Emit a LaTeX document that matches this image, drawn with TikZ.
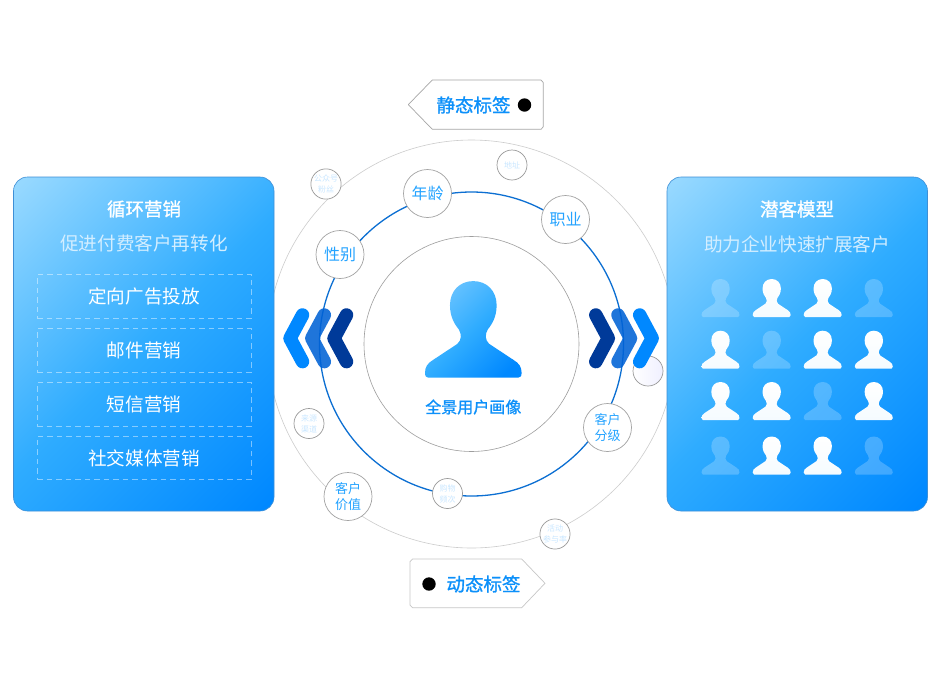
\documentclass[tikz,border=0pt]{standalone}
\usepackage{fontspec}
\setmainfont{Noto Sans CJK SC}
\newfontfamily\medfont[FakeBold=1.1]{Noto Sans CJK SC}
\usetikzlibrary{shadings}
\definecolor{panelLight}{HTML}{96D8FF}
\definecolor{panelMid}{HTML}{2FACFF}
\definecolor{panelDeep}{HTML}{0088FF}
\definecolor{panelEdge}{HTML}{3E8FD6}
\definecolor{tagBlue}{HTML}{0C90FA}
\definecolor{nodeBlue}{HTML}{24A3FF}
\definecolor{faintBlue}{HTML}{C9E7FF}
\definecolor{subWhite}{HTML}{D3EEFF}
\definecolor{ringBlue}{HTML}{0C6FD2}
\definecolor{chevA}{HTML}{0088FF}
\definecolor{chevB}{HTML}{0062D6}
\definecolor{chevC}{HTML}{003A99}
\pgfdeclareverticalshading{panelgrad}{100bp}{color(0bp)=(panelDeep); color(16bp)=(panelDeep); color(50bp)=(panelMid); color(84bp)=(panelLight); color(100bp)=(panelLight)}
\pgfdeclareverticalshading{headgrad}{100bp}{color(0bp)=(panelDeep); color(22bp)=(panelDeep); color(50bp)=(panelMid); color(84bp)=(panelLight!85!panelDeep); color(100bp)=(panelLight!85!panelDeep)}
\tikzset{
  x=1pt,y=-1pt,
  panelbox/.style={rounded corners=14pt,shading=panelgrad,shading angle=45,draw=panelEdge,line width=.6pt},
  dashbox/.style={draw=white,draw opacity=.45,dash pattern=on 5.5pt off 4pt,line width=.9pt,minimum width=214pt,minimum height=43.5pt,inner sep=0pt,text=white,font=\fontsize{18.6}{22}\selectfont,anchor=center},
  titletext/.style={text=white,font=\fontsize{18.5}{22}\selectfont\medfont,inner sep=0pt},
  subtext/.style={text=subWhite,font=\fontsize{18.6}{22}\selectfont,inner sep=0pt},
  bignode/.style={circle,draw=black!36,line width=.7pt,fill=white,minimum size=48pt,inner sep=0pt,align=center,text=nodeBlue,font=\fontsize{16}{18}\selectfont},
  twonode/.style={bignode,font=\fontsize{13}{16}\selectfont},
  smallnode/.style={circle,draw=black!40,line width=.7pt,fill=white,minimum size=30pt,inner sep=0pt,align=center,text=faintBlue,font=\fontsize{8}{11}\selectfont},
  tagtext/.style={text=tagBlue,font=\fontsize{18.5}{22}\selectfont\medfont,inner sep=0pt},
  chevstroke/.style={line width=13.5pt,line cap=round,line join=round},
}
\newcommand{\personshape}[3]{% cx, bottom y, half width
  \path[shift={(#1,#2)},x=#3pt,y=#3pt,persona] (0,2)
    .. controls (.28,2) and (.483,1.8) .. (.483,1.5)
    .. controls (.483,1.25) and (.38,1.1) .. (.30,1.0)
    .. controls (.24,.9) and (.24,.78) .. (.33,.70)
    -- (.83,.37) .. controls (.95,.3) and (1,.22) .. (1,.1)
    .. controls (1,.03) and (.97,0) .. (.93,0)
    -- (-.93,0) .. controls (-.97,0) and (-1,.03) .. (-1,.1)
    .. controls (-1,.22) and (-.95,.3) .. (-.83,.37)
    -- (-.33,.70) .. controls (-.24,.78) and (-.24,.9) .. (-.30,1.0)
    .. controls (-.38,1.1) and (-.483,1.25) .. (-.483,1.5)
    .. controls (-.483,1.8) and (-.28,2) .. (0,2) -- cycle;
}
\newcommand{\personb}[3]{\begingroup\tikzset{persona/.style={#3}}\personshape{#1}{#2}{19}\endgroup}
\begin{document}
\begin{tikzpicture}
\useasboundingbox (0,0) rectangle (940,678);
\fill[white] (0,0) rectangle (940,678);

% rings
\coordinate (hub) at (471.5,344);
\draw[black!20,line width=.6pt] (hub) circle[radius=204];
\draw[ringBlue,line width=1.3pt] (hub) circle[radius=152];
\draw[black!38,line width=.6pt] (hub) circle[radius=107.5];

% pale circle under the chevrons
\node[smallnode,left color=white,right color=black!3!blue!6!white] (pale) at (648,371) {};

% chevrons, left
\draw[chevstroke,chevC] (346.5,315) -- (334,338.3) -- (346.5,361.6);
\draw[chevstroke,chevB,opacity=.88] (324.3,315) -- (311.8,338.3) -- (324.3,361.6);
\draw[chevstroke,chevA] (302.5,315) -- (290,338.3) -- (302.5,361.6);
% chevrons, right
\draw[chevstroke,chevC] (595.8,315) -- (608.3,338.3) -- (595.8,361.6);
\draw[chevstroke,chevB,opacity=.88] (618,315) -- (630.5,338.3) -- (618,361.6);
\draw[chevstroke,chevA] (639.7,315) -- (652.2,338.3) -- (639.7,361.6);

% ring nodes
\node[bignode] (age) at (427.5,193.5) {年龄};
\node[bignode] (job) at (565.5,219.5) {职业};
\node[bignode] (sex) at (340,254.5) {性别};
\node[twonode] (grade) at (607.5,427.5) {客户\\分级};
\node[twonode] (value) at (348,496.5) {客户\\价值};
\node[smallnode] (fans) at (326,184) {公众号\\粉丝};
\node[smallnode] (addr) at (512,165) {地址};
\node[smallnode] (source) at (309,423.5) {来源\\渠道};
\node[smallnode] (freq) at (447.5,493.5) {购物\\频次};
\node[smallnode] (rate) at (555,534) {活动\\参与率};

% centre
\begingroup
\tikzset{persona/.style={shading=headgrad,shading angle=45}}
\personshape{473.3}{377.7}{48.3}
\endgroup
\node[text=tagBlue,font=\fontsize{16}{18}\selectfont\medfont,inner sep=0pt] (centrelabel) at (473.3,407) {全景用户画像};

% tags
\draw[fill=white,draw=black!35,line width=.7pt,line join=round] (432.3,80) -- (541,80) to[out=0,in=-90] (543.3,82.5) -- (543.3,126.8) to[out=90,in=0] (541,129.3) -- (432.3,129.3) -- (408.3,104.6) -- cycle;
\node[tagtext] (statictag) at (473.5,105) {静态标签};
\node[circle,fill=black,minimum size=13.4pt,inner sep=0pt] (staticdot) at (524.5,105) {};

\draw[fill=white,draw=black!22,line width=.7pt,line join=round] (412.5,559) -- (521.7,559) -- (545,583.3) -- (521.7,607.7) -- (412.5,607.7) to[out=180,in=90] (410,605.2) -- (410,561.5) to[out=-90,in=180] (412.5,559) -- cycle;
\node[tagtext] (dynamictag) at (483.5,584) {动态标签};
\node[circle,fill=black,minimum size=13.4pt,inner sep=0pt] (dynamicdot) at (429,584) {};

% left panel
\path[panelbox] (13.5,177) rectangle (274,511);
\node[titletext] (lefttitle) at (144,209) {循环营销};
\node[subtext] (leftsub) at (144,243.5) {促进付费客户再转化};
\node[dashbox] (m1) at (144,296.5) {定向广告投放};
\node[dashbox] (m2) at (144,350.5) {邮件营销};
\node[dashbox] (m3) at (144,404.5) {短信营销};
\node[dashbox] (m4) at (144,458) {社交媒体营销};

% right panel
\path[panelbox] (667,177) rectangle (927.5,511);
\node[titletext] (righttitle) at (797,209) {潜客模型};
\node[subtext] (rightsub) at (797,244) {助力企业快速扩展客户};

\tikzset{
  whiteguy/.style={top color=white,bottom color=white!90!panelLight},
  paleguy/.style={fill=white,fill opacity=.22},
}
\personb{720.5}{317}{paleguy}
\personb{771.7}{317}{whiteguy}
\personb{822.7}{317}{whiteguy}
\personb{873.8}{317}{paleguy}
\personb{720.5}{368.7}{whiteguy}
\personb{771.7}{368.7}{paleguy}
\personb{822.7}{368.7}{whiteguy}
\personb{873.8}{368.7}{whiteguy}
\personb{720.5}{420}{whiteguy}
\personb{771.7}{420}{whiteguy}
\personb{822.7}{420}{paleguy}
\personb{873.8}{420}{whiteguy}
\personb{720.5}{474.5}{paleguy}
\personb{771.7}{474.5}{whiteguy}
\personb{822.7}{474.5}{whiteguy}
\personb{873.8}{474.5}{paleguy}
\end{tikzpicture}
\end{document}
